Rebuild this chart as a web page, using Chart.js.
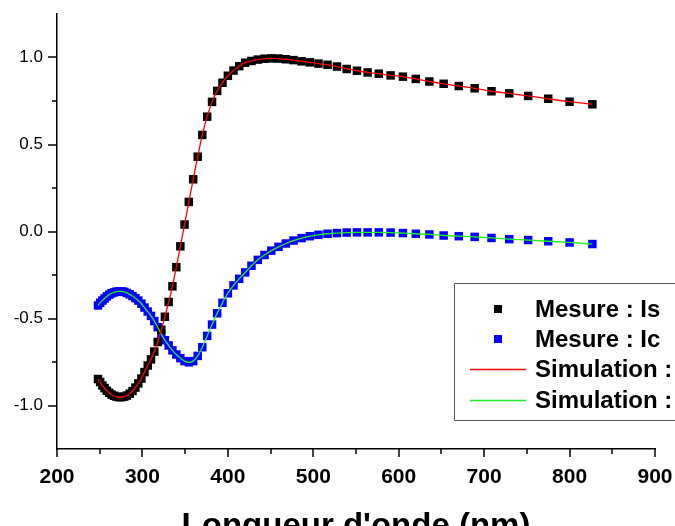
<!DOCTYPE html>
<html>
<head>
<meta charset="utf-8">
<script src="https://cdn.jsdelivr.net/npm/chart.js@4/dist/chart.umd.min.js"></script>
<style>
html, body { margin: 0; padding: 0; background: #fff; }
#wrap { width: 675px; height: 526px; }
</style>
</head>
<body>
<div id="wrap"><canvas id="graph"></canvas></div>
<script>
// wavelength (nm) of each measured point
var wavelength = [
    248.0, 250.5, 253.1, 255.7, 258.3, 261.1, 263.8, 266.7, 269.6, 272.5,
    275.6, 278.7, 281.8, 285.1, 288.4, 291.8, 295.2, 298.8, 302.4, 306.2,
    310.0, 313.9, 317.9, 322.1, 326.3, 330.7, 335.1, 339.7, 344.4, 349.3,
    354.3, 359.4, 364.7, 370.1, 375.8, 381.5, 387.5, 393.7, 400.0, 406.6,
    413.3, 420.3, 427.6, 435.1, 442.9, 450.9, 459.3, 467.9, 476.9, 486.3,
    496.0, 506.1, 516.7, 527.7, 539.1, 551.1, 563.6, 576.7, 590.5, 604.9,
    620.0, 635.9, 652.6, 670.3, 688.9, 708.6, 729.4, 751.5, 775.0, 800.0,
    826.7
];

var mesureIs = [
    -0.848, -0.865, -0.885, -0.900, -0.915, -0.927, -0.937, -0.944, -0.949, -0.952,
    -0.952, -0.949, -0.943, -0.932, -0.917, -0.897, -0.873, -0.845, -0.808, -0.770,
    -0.735, -0.690, -0.635, -0.565, -0.490, -0.405, -0.315, -0.205, -0.085, 0.040,
    0.170, 0.300, 0.430, 0.555, 0.660, 0.745, 0.808, 0.855, 0.895, 0.925,
    0.950, 0.970, 0.980, 0.988, 0.993, 0.995, 0.994, 0.990, 0.985, 0.978,
    0.972, 0.965, 0.958, 0.948, 0.934, 0.924, 0.914, 0.907, 0.897, 0.890,
    0.877, 0.862, 0.849, 0.836, 0.823, 0.806, 0.794, 0.779, 0.763, 0.746,
    0.731
];

var mesureIc = [
    -0.425, -0.410, -0.397, -0.385, -0.373, -0.363, -0.355, -0.350, -0.346, -0.344,
    -0.344, -0.347, -0.353, -0.361, -0.371, -0.383, -0.397, -0.415, -0.437, -0.460,
    -0.485, -0.515, -0.550, -0.590, -0.625, -0.655, -0.683, -0.707, -0.728, -0.745,
    -0.752, -0.745, -0.715, -0.665, -0.600, -0.535, -0.470, -0.410, -0.355, -0.310,
    -0.272, -0.235, -0.197, -0.163, -0.135, -0.110, -0.088, -0.069, -0.052, -0.038,
    -0.027, -0.019, -0.013, -0.009, -0.006, -0.005, -0.005, -0.005, -0.006, -0.009,
    -0.013, -0.017, -0.023, -0.027, -0.031, -0.037, -0.044, -0.049, -0.056, -0.063,
    -0.072
];

// the simulated curves lie on top of the measurements
var simulationIs = mesureIs;
var simulationIc = mesureIc;

var xMajor = [200, 300, 400, 500, 600, 700, 800, 900];
var xMinor = [250, 350, 450, 550, 650, 750, 850];
var yMajor = [-1.0, -0.5, 0.0, 0.5, 1.0];
var yMinor = [-0.75, -0.25, 0.25, 0.75];

var FONT = "'Liberation Sans', Arial, sans-serif";

function toPoints(xs, ys) {
    return xs.map(function (x, i) { return { x: x, y: ys[i] }; });
}

// minor and major tick marks, drawn outward like the original plot
var tickMarks = {
    id: 'tickMarks',
    afterDraw: function (chart) {
        var ctx = chart.ctx;
        var xs = chart.scales.x, ys = chart.scales.y;
        var x0 = chart.chartArea.left, y0 = chart.chartArea.bottom;
        ctx.save();
        ctx.strokeStyle = '#000';
        ctx.lineWidth = 1.5;
        ctx.beginPath();
        xMajor.forEach(function (v) {
            var p = Math.round(xs.getPixelForValue(v));
            ctx.moveTo(p, y0); ctx.lineTo(p, y0 + 8);
        });
        xMinor.forEach(function (v) {
            var p = Math.round(xs.getPixelForValue(v));
            ctx.moveTo(p, y0); ctx.lineTo(p, y0 + 5);
        });
        yMajor.forEach(function (v) {
            var p = Math.round(ys.getPixelForValue(v));
            ctx.moveTo(x0, p); ctx.lineTo(x0 - 9, p);
        });
        yMinor.forEach(function (v) {
            var p = Math.round(ys.getPixelForValue(v));
            ctx.moveTo(x0, p); ctx.lineTo(x0 - 5, p);
        });
        ctx.stroke();
        ctx.restore();
    }
};

// boxed legend sitting in the lower right, running off the canvas edge
var boxLegend = {
    id: 'boxLegend',
    afterDraw: function (chart) {
        var ctx = chart.ctx;
        var rows = [309, 339, 369, 400];
        ctx.save();
        ctx.fillStyle = '#fff';
        ctx.fillRect(455, 284, 230, 136);
        ctx.strokeStyle = '#555';
        ctx.lineWidth = 1;
        ctx.beginPath();
        ctx.moveTo(690, 283.5);
        ctx.lineTo(454.5, 283.5);
        ctx.lineTo(454.5, 420.5);
        ctx.lineTo(690, 420.5);
        ctx.stroke();

        ctx.font = 'bold 24px ' + FONT;
        ctx.textBaseline = 'middle';
        ctx.textAlign = 'left';
        chart.data.datasets.forEach(function (ds, i) {
            var y = rows[i];
            if (ds.showLine) {
                ctx.strokeStyle = ds.borderColor;
                ctx.lineWidth = 1.4;
                ctx.beginPath();
                ctx.moveTo(470, y + 0.5);
                ctx.lineTo(526, y + 0.5);
                ctx.stroke();
            } else {
                ctx.fillStyle = ds.pointBackgroundColor;
                ctx.fillRect(494, y - 4, 8, 8);
            }
            ctx.fillStyle = '#000';
            ctx.fillText(ds.label, 535, y + 1);
        });
        ctx.restore();
    }
};

var ctx = document.getElementById('graph').getContext('2d');
var chart = new Chart(ctx, {
    type: 'scatter',
    data: {
        datasets: [
            {
                label: 'Mesure : Is',
                data: toPoints(wavelength, mesureIs),
                pointStyle: 'rect',
                pointRadius: 6,
                pointBorderWidth: 0,
                pointBackgroundColor: '#000000',
                borderColor: '#000000',
                showLine: false,
                order: 2
            },
            {
                label: 'Mesure : Ic',
                data: toPoints(wavelength, mesureIc),
                pointStyle: 'rect',
                pointRadius: 6,
                pointBorderWidth: 0,
                pointBackgroundColor: '#0000ff',
                borderColor: '#0000ff',
                showLine: false,
                order: 3
            },
            {
                label: 'Simulation : Is',
                data: toPoints(wavelength, simulationIs),
                showLine: true,
                borderColor: '#ff0000',
                borderWidth: 1.3,
                pointRadius: 0,
                cubicInterpolationMode: 'monotone',
                order: 0
            },
            {
                label: 'Simulation : Ic',
                data: toPoints(wavelength, simulationIc),
                showLine: true,
                borderColor: '#22ee22',
                borderWidth: 1.3,
                pointRadius: 0,
                cubicInterpolationMode: 'monotone',
                order: 1
            }
        ]
    },
    options: {
        responsive: true,
        maintainAspectRatio: false,
        animation: false,
        devicePixelRatio: 1,
        layout: { padding: { top: 14, right: 20, left: 0, bottom: 0 } },
        plugins: {
            legend: { display: false },
            tooltip: { enabled: false }
        },
        scales: {
            x: {
                type: 'linear',
                min: 200,
                max: 900,
                afterFit: function (scale) {
                    scale.height = 77;
                    scale.paddingLeft = 0;
                    scale.paddingRight = 0;
                },
                afterBuildTicks: function (scale) {
                    scale.ticks = xMajor.map(function (v) { return { value: v }; });
                },
                grid: { display: false, drawTicks: false },
                border: { display: true, color: '#000', width: 1.5 },
                ticks: {
                    autoSkip: false,
                    maxRotation: 0,
                    padding: 16,
                    color: '#000',
                    font: { family: FONT, size: 21, weight: 'bold' },
                    callback: function (v) { return String(v); }
                },
                title: {
                    display: true,
                    text: "Longueur d'onde (nm)",
                    color: '#000',
                    font: { family: FONT, size: 33, weight: 'bold' },
                    padding: { top: 0, bottom: -21 }
                }
            },
            y: {
                type: 'linear',
                min: -1.25,
                max: 1.25,
                afterFit: function (scale) {
                    scale.width = 57;
                    scale.paddingTop = 0;
                    scale.paddingBottom = 0;
                },
                afterBuildTicks: function (scale) {
                    scale.ticks = yMajor.map(function (v) { return { value: v }; });
                },
                grid: { display: false, drawTicks: false },
                border: { display: true, color: '#000', width: 1.5 },
                ticks: {
                    autoSkip: false,
                    padding: 14,
                    color: '#000',
                    font: { family: FONT, size: 17 },
                    callback: function (v) { return v.toFixed(1); }
                }
            }
        }
    },
    plugins: [tickMarks, boxLegend]
});
</script>
</body>
</html>
